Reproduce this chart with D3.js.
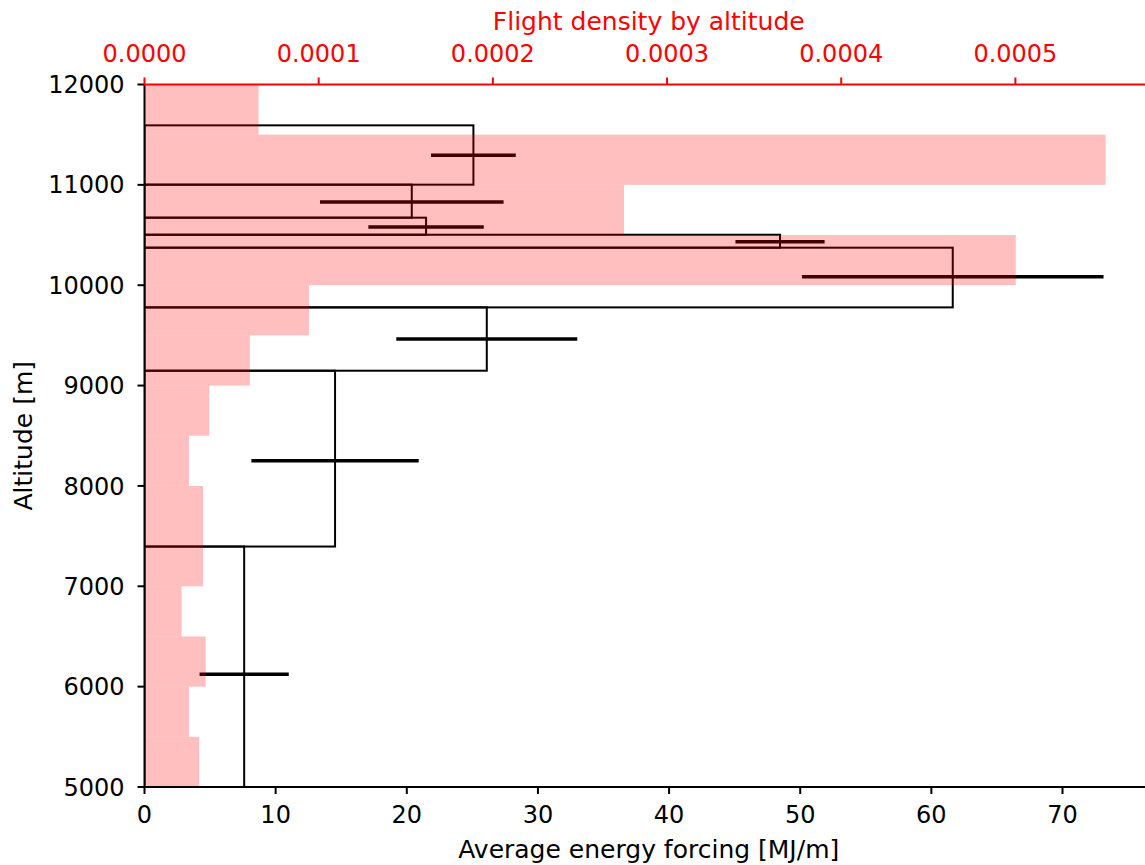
<!DOCTYPE html>
<html>
<head>
<meta charset="utf-8">
<script src="https://cdn.jsdelivr.net/npm/d3@7"></script>
<style>
  body { margin: 0; background: #fff; }
  text { font-family: "DejaVu Sans", sans-serif; }
</style>
</head>
<body>
<svg id="mySvg" width="1145" height="865"></svg>
<script>
// Flight density, 500 m altitude bins (top axis)
const densityEdges = [5000, 5500, 6000, 6500, 7000, 7500, 8000, 8500, 9000, 9500, 10000, 10500, 11000, 11500, 12000];
const flightDensity = [0.0000314, 0.0000255, 0.0000351, 0.0000213, 0.0000336, 0.0000336, 0.0000255,
  0.0000372, 0.0000605, 0.0000944, 0.0005002, 0.0002753, 0.0005518, 0.0000655];

// Average energy forcing per altitude bin (bottom axis)
const energyEdges = [5000, 7396, 9148, 9779, 10374, 10503, 10673, 11002, 11593];
const energyForcing = [7.6, 14.53, 26.1, 61.63, 48.46, 21.47, 20.38, 25.08];
const errorAltitude = [6124, 8251, 9464, 10085, 10434, 10580, 10830, 11294];
const errorHalfWidth = [3.4, 6.38, 6.9, 11.5, 3.4, 4.4, 7.0, 3.23];

const energyTicks = [0, 10, 20, 30, 40, 50, 60, 70];
const densityTicks = [0, 0.0001, 0.0002, 0.0003, 0.0004, 0.0005];
const altitudeTicks = [5000, 6000, 7000, 8000, 9000, 10000, 11000, 12000];

const svg = d3.select("#mySvg");
svg.selectAll("*").remove();

const pLeft = 144.5, pRight = 1153, pTop = 84.5, pBottom = 787;
const fs = 24, labelFs = 25;

const y = d3.scaleLinear().domain([5000, 12000]).range([pBottom, pTop]);
const xE = d3.scaleLinear().domain([0, 76.9]).range([pLeft, pRight]);
const xD = d3.scaleLinear().domain([0, 0.000579]).range([pLeft, pRight]);

svg.append("clipPath").attr("id", "plot")
  .append("rect").attr("x", pLeft).attr("y", pTop)
  .attr("width", pRight - pLeft).attr("height", pBottom - pTop);

const plot = svg.append("g").attr("clip-path", "url(#plot)");

// energy bars (outline only)
plot.selectAll("rect.energy")
  .data(energyForcing)
  .join("rect")
  .attr("class", "energy")
  .attr("x", xE(0))
  .attr("y", (d, i) => y(energyEdges[i + 1]))
  .attr("width", d => xE(d) - xE(0))
  .attr("height", (d, i) => y(energyEdges[i]) - y(energyEdges[i + 1]))
  .attr("fill", "none")
  .attr("stroke", "#000")
  .attr("stroke-width", 2);

// horizontal error bars
plot.selectAll("line.err")
  .data(energyForcing)
  .join("line")
  .attr("class", "err")
  .attr("x1", (d, i) => xE(d - errorHalfWidth[i]))
  .attr("x2", (d, i) => xE(d + errorHalfWidth[i]))
  .attr("y1", (d, i) => y(errorAltitude[i]))
  .attr("y2", (d, i) => y(errorAltitude[i]))
  .attr("stroke", "#000")
  .attr("stroke-width", 3.5);

// density bars on the twin axis, drawn on top
plot.selectAll("rect.density")
  .data(flightDensity)
  .join("rect")
  .attr("class", "density")
  .attr("x", xD(0))
  .attr("y", (d, i) => y(densityEdges[i + 1]))
  .attr("width", d => xD(d) - xD(0))
  .attr("height", (d, i) => y(densityEdges[i]) - y(densityEdges[i + 1]))
  .attr("fill", "red")
  .attr("fill-opacity", 0.25);

// left axis
const yAxis = svg.append("g");
yAxis.selectAll("line")
  .data(altitudeTicks)
  .join("line")
  .attr("x1", pLeft - 7).attr("x2", pLeft)
  .attr("y1", d => y(d)).attr("y2", d => y(d))
  .attr("stroke", "#000").attr("stroke-width", 2);
yAxis.selectAll("text")
  .data(altitudeTicks)
  .join("text")
  .attr("x", pLeft - 20)
  .attr("y", d => y(d))
  .attr("dy", "0.36em")
  .attr("text-anchor", "end")
  .attr("font-size", fs)
  .attr("fill", "#000")
  .text(d => d);

svg.append("text")
  .attr("transform", `translate(32,${(pTop + pBottom) / 2}) rotate(-90)`)
  .attr("text-anchor", "middle")
  .attr("font-size", labelFs)
  .text("Altitude [m]");

// bottom axis
const xAxis = svg.append("g");
xAxis.selectAll("line")
  .data(energyTicks)
  .join("line")
  .attr("x1", d => xE(d)).attr("x2", d => xE(d))
  .attr("y1", pBottom).attr("y2", pBottom + 7)
  .attr("stroke", "#000").attr("stroke-width", 2);
xAxis.selectAll("text")
  .data(energyTicks)
  .join("text")
  .attr("x", d => xE(d))
  .attr("y", pBottom + 36)
  .attr("text-anchor", "middle")
  .attr("font-size", fs)
  .text(d => d);

svg.append("text")
  .attr("x", (pLeft + pRight) / 2)
  .attr("y", 858)
  .attr("text-anchor", "middle")
  .attr("font-size", labelFs)
  .text("Average energy forcing [MJ/m]");

// top axis (red)
const tAxis = svg.append("g");
tAxis.selectAll("line")
  .data(densityTicks)
  .join("line")
  .attr("x1", d => xD(d)).attr("x2", d => xD(d))
  .attr("y1", pTop).attr("y2", pTop - 7)
  .attr("stroke", "red").attr("stroke-width", 2);
tAxis.selectAll("text")
  .data(densityTicks)
  .join("text")
  .attr("x", d => xD(d))
  .attr("y", pTop - 23)
  .attr("text-anchor", "middle")
  .attr("font-size", fs)
  .attr("fill", "red")
  .text(d => d3.format(".4f")(d));

svg.append("text")
  .attr("x", (pLeft + pRight) / 2)
  .attr("y", 30)
  .attr("text-anchor", "middle")
  .attr("font-size", labelFs)
  .attr("fill", "red")
  .text("Flight density by altitude");

// spines
svg.append("line").attr("x1", pLeft).attr("x2", pLeft).attr("y1", pTop).attr("y2", pBottom)
  .attr("stroke", "#000").attr("stroke-width", 2);
svg.append("line").attr("x1", pLeft - 1).attr("x2", pRight).attr("y1", pBottom).attr("y2", pBottom)
  .attr("stroke", "#000").attr("stroke-width", 2);
svg.append("line").attr("x1", pLeft - 1).attr("x2", pRight).attr("y1", pTop).attr("y2", pTop)
  .attr("stroke", "red").attr("stroke-width", 2);
</script>
</body>
</html>
